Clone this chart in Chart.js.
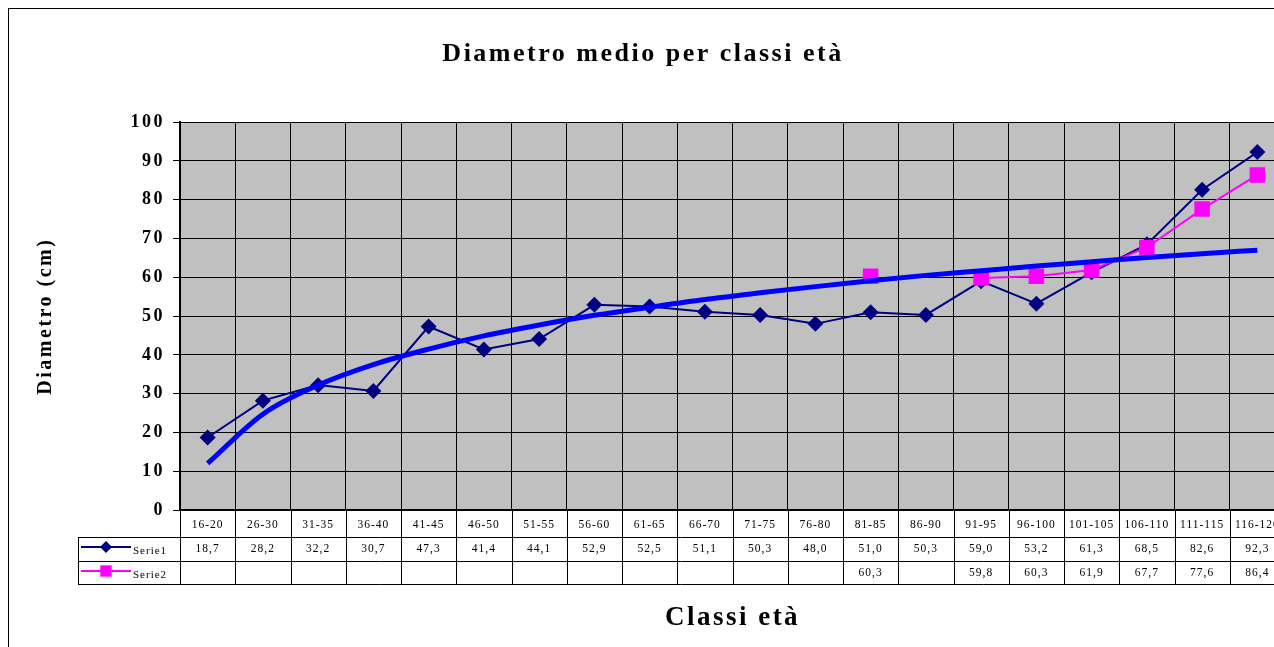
<!DOCTYPE html>
<html>
<head>
<meta charset="utf-8">
<title>Diametro medio per classi età</title>
<script src="https://cdn.jsdelivr.net/npm/chart.js@4/dist/chart.umd.min.js"></script>
<style>
  body { margin: 0; background: #fff; overflow: hidden; }
  #wrap { width: 1274px; height: 647px; overflow: hidden; }
  #wrap div { width: 1296px; height: 647px; }
</style>
</head>
<body>
<div id="wrap"><div><canvas id="diamChart"></canvas></div></div>
<script>
// classi di età
const classi = ['16-20', '26-30', '31-35', '36-40', '41-45', '46-50', '51-55', '56-60', '61-65', '66-70',
  '71-75', '76-80', '81-85', '86-90', '91-95', '96-100', '101-105', '106-110', '111-115', '116-120'];

const serie1 = [18.7, 28.2, 32.2, 30.7, 47.3, 41.4, 44.1, 52.9, 52.5, 51.1,
  50.3, 48.0, 51.0, 50.3, 59.0, 53.2, 61.3, 68.5, 82.6, 92.3];

const serie2 = [null, null, null, null, null, null, null, null, null, null,
  null, null, 60.3, null, 59.8, 60.3, 61.9, 67.7, 77.6, 86.4];

// linea di tendenza
const tendenza = [12.0, 24.7, 32.2, 37.5, 41.5, 44.9, 47.7, 50.2, 52.3, 54.3,
  56.0, 57.6, 59.1, 60.5, 61.7, 62.9, 64.0, 65.1, 66.1, 67.0];

const yTicks = [0, 10, 20, 30, 40, 50, 60, 70, 80, 90, 100];

const SERIF = "'Liberation Serif', 'Times New Roman', serif";

function fmt(v) {
  return v == null ? '' : v.toFixed(1).replace('.', ',');
}

// sfondo grigio + cornice
const sfondo = {
  id: 'sfondo',
  beforeDraw(chart) {
    const { ctx, chartArea: a } = chart;
    ctx.save();
    ctx.fillStyle = '#c0c0c0';
    ctx.fillRect(a.left, a.top, a.right - a.left, a.bottom - a.top);
    ctx.strokeStyle = '#000';
    ctx.lineWidth = 1;
    ctx.strokeRect(8.5, 8.5, 1400, 700);
    ctx.restore();
    ctx.letterSpacing = '2.5px';
  }
};

// tabella dati sotto il grafico
const tabella = {
  id: 'tabella',
  afterDraw(chart) {
    const { ctx, chartArea: a } = chart;
    const x = chart.scales.x;
    const n = classi.length;
    const w = (x.getPixelForValue(1) - x.getPixelForValue(0));
    const rows = [a.bottom, 537, 561, 584];
    const legLeft = 78;
    ctx.save();
    ctx.letterSpacing = '1px';
    ctx.strokeStyle = '#000';
    ctx.lineWidth = 1;
    ctx.beginPath();
    // linee orizzontali
    ctx.moveTo(legLeft, rows[1] + 0.5); ctx.lineTo(a.left + n * w, rows[1] + 0.5);
    ctx.moveTo(legLeft, rows[2] + 0.5); ctx.lineTo(a.left + n * w, rows[2] + 0.5);
    ctx.moveTo(legLeft, rows[3] + 0.5); ctx.lineTo(a.left + n * w, rows[3] + 0.5);
    // linee verticali
    ctx.moveTo(legLeft + 0.5, rows[1]); ctx.lineTo(legLeft + 0.5, rows[3]);
    for (let i = 0; i <= n; i++) {
      const px = Math.round(x.getPixelForValue(i) - w / 2) + 0.5;
      ctx.moveTo(px, rows[0]); ctx.lineTo(px, rows[3]);
    }
    ctx.stroke();

    ctx.fillStyle = '#000';
    ctx.textAlign = 'center';
    ctx.textBaseline = 'middle';
    ctx.font = '11.5px ' + SERIF;
    for (let i = 0; i < n; i++) {
      const cx = x.getPixelForValue(i);
      ctx.fillText(classi[i], cx, 525);
      ctx.fillText(fmt(serie1[i]), cx, 549);
      ctx.fillText(fmt(serie2[i]), cx, 573);
    }

    // legenda nelle righe
    const legende = [
      { label: 'Serie1', color: '#000080', style: 'rectRot', r: 6, y: 547 },
      { label: 'Serie2', color: '#ff00ff', style: 'rect', r: 8, y: 571 }
    ];
    legende.forEach(l => {
      ctx.strokeStyle = l.color;
      ctx.lineWidth = 2;
      ctx.beginPath();
      ctx.moveTo(81, l.y); ctx.lineTo(131, l.y);
      ctx.stroke();
      ctx.fillStyle = l.color;
      Chart.helpers.drawPoint(ctx, { pointStyle: l.style, radius: l.r, borderWidth: 0 }, 106, l.y);
      ctx.fillStyle = '#000';
      ctx.textAlign = 'left';
      ctx.font = '11px ' + SERIF;
      ctx.fillText(l.label, 133, l.y + 4);
    });
    ctx.restore();
  }
};

const ctx = document.getElementById('diamChart').getContext('2d');

new Chart(ctx, {
  type: 'line',
  data: {
    labels: classi,
    datasets: [
      {
        label: 'Tendenza',
        data: tendenza,
        borderColor: '#0000ff',
        borderWidth: 5,
        pointRadius: 0,
        cubicInterpolationMode: 'monotone',
        order: 0,
        fill: false
      },
      {
        label: 'Serie2',
        data: serie2,
        borderColor: '#ff00ff',
        backgroundColor: '#ff00ff',
        borderWidth: 2,
        pointStyle: 'rect',
        pointRadius: 11,
        pointBorderWidth: 0,
        spanGaps: false,
        order: 1,
        fill: false
      },
      {
        label: 'Serie1',
        data: serie1,
        borderColor: '#000080',
        backgroundColor: '#000080',
        borderWidth: 2,
        pointStyle: 'rectRot',
        pointRadius: 8,
        pointBorderWidth: 0,
        order: 2,
        fill: false
      }
    ]
  },
  options: {
    responsive: true,
    maintainAspectRatio: false,
    animation: false,
    events: [],
    layout: { padding: { left: 0, right: 10, top: 0, bottom: 0 } },
    plugins: {
      legend: { display: false },
      tooltip: { enabled: false },
      title: {
        display: true,
        text: 'Diametro medio per classi età',
        color: '#000',
        font: { family: SERIF, size: 26, weight: 'bold' },
        padding: { top: 39, bottom: 52 }
      }
    },
    scales: {
      x: {
        offset: true,
        grid: { offset: true, color: '#000', drawTicks: false },
        border: { color: '#000', width: 2 },
        ticks: { display: false },
        title: {
          display: true,
          text: 'Classi età',
          color: '#000',
          font: { family: SERIF, size: 27, weight: 'bold' },
          padding: { bottom: 13 }
        },
        afterFit(scale) { scale.height = 137; }
      },
      y: {
        min: 0,
        max: 100,
        afterBuildTicks(scale) { scale.ticks = yTicks.map(v => ({ value: v })); },
        grid: { color: '#000', tickLength: 7 },
        border: { color: '#000', width: 2 },
        ticks: {
          color: '#000',
          padding: 8,
          font: { family: SERIF, size: 18, weight: 'bold' }
        },
        title: {
          display: true,
          text: 'Diametro (cm)',
          color: '#000',
          font: { family: SERIF, size: 20, weight: 'bold' },
          padding: { top: 34 }
        },
        afterFit(scale) { scale.width = 180; }
      }
    }
  },
  plugins: [sfondo, tabella]
});
</script>
</body>
</html>
